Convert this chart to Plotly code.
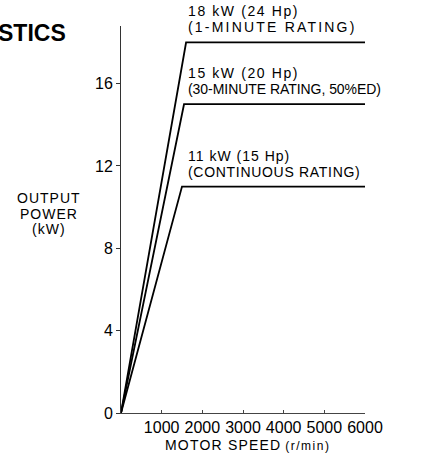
import plotly.graph_objects as go

# Data (motor speed in r/min, output power in kW)
speed_1min = [0, 1600, 6000]
power_1min = [0, 18, 18]
speed_30min = [0, 1550, 6000]
power_30min = [0, 15, 15]
speed_cont = [0, 1500, 6000]
power_cont = [0, 11, 11]

label_1min = ["18 kW (24 Hp)", "(1-MINUTE RATING)"]
label_30min = ["15 kW (20 Hp)", "(30-MINUTE RATING, 50%ED)"]
label_cont = ["11 kW (15 Hp)", "(CONTINUOUS RATING)"]

x_ticks = [1000, 2000, 3000, 4000, 5000, 6000]
x_ticktext = ["1000", "2000", "3000", "4000", "5000", "6000"]
y_ticks = [0, 4, 8, 12, 16]
y_ticktext = ["0", "4", "8", "12", "16"]

FONT = "Liberation Sans, Arial, Helvetica, sans-serif"

FIG_W, FIG_H = 430, 460
plot_l, plot_t, plot_w, plot_h = 121, 26, 244, 387


def px_x(page_x):
    return (page_x - plot_l) / plot_w


def px_y(page_y):
    return 1 - (page_y - plot_t) / plot_h


def spaced(txt, ls):
    return "<span style='letter-spacing:%.2fpx'>%s</span>" % (ls, txt)


fig = go.Figure()
for xs, ys in [(speed_1min, power_1min), (speed_30min, power_30min), (speed_cont, power_cont)]:
    fig.add_trace(go.Scatter(x=xs, y=ys, mode="lines",
                             line=dict(color="black", width=1.8),
                             showlegend=False, hoverinfo="skip"))

# per-line letter spacing to mimic the wide typesetting of the original
spacing = {
    label_1min[0]: 1.6, label_1min[1]: 2.2,
    label_30min[0]: 1.6, label_30min[1]: -0.05,
    label_cont[0]: 1.0, label_cont[1]: 0.7,
}

annotations = []
for lab, xs, ys in [(label_1min, speed_1min, power_1min),
                    (label_30min, speed_30min, power_30min),
                    (label_cont, speed_cont, power_cont)]:
    level = ys[1]
    annotations.append(dict(x=1590, y=level, xref="x", yref="y",
                            text=spaced(lab[0], spacing[lab[0]]),
                            showarrow=False, xanchor="left", yanchor="middle",
                            yshift=31, font=dict(size=14, color="black", family=FONT)))
    annotations.append(dict(x=1590, y=level, xref="x", yref="y",
                            text=spaced(lab[1], spacing[lab[1]]),
                            showarrow=False, xanchor="left", yanchor="middle",
                            yshift=15, font=dict(size=14, color="black", family=FONT)))

# Y-axis title lines
for txt, ypix in [("OUTPUT", 198), ("POWER", 214), ("(kW)", 229)]:
    annotations.append(dict(x=px_x(49), y=px_y(ypix), xref="paper", yref="paper",
                            text=spaced(txt, 1.0),
                            showarrow=False, xanchor="center", yanchor="middle",
                            font=dict(size=14, color="black", family=FONT)))

# X-axis title
annotations.append(dict(x=px_x(247), y=px_y(445), xref="paper", yref="paper",
                        text=spaced("MOTOR SPEED", 1.2) + " "
                        + "<span style='font-size:12px;letter-spacing:1.5px'>(r/min)</span>",
                        showarrow=False, xanchor="center", yanchor="middle",
                        font=dict(size=14, color="black", family=FONT)))

# Partial title
annotations.append(dict(x=px_x(68), y=px_y(33), xref="paper", yref="paper",
                        text="<b>STICS</b>", showarrow=False, xanchor="right", yanchor="middle",
                        font=dict(size=23, color="black", family=FONT)))

fig.update_layout(
    width=FIG_W, height=FIG_H,
    margin=dict(l=plot_l, r=FIG_W - plot_l - plot_w, t=plot_t, b=FIG_H - plot_t - plot_h),
    paper_bgcolor="white", plot_bgcolor="white",
    font=dict(family=FONT, color="black", size=16),
    annotations=annotations,
    xaxis=dict(range=[0, 6000], tickvals=x_ticks, ticktext=x_ticktext,
               showgrid=False, zeroline=False, showline=True, linecolor="#444",
               linewidth=1, ticks="inside", ticklen=3, tickcolor="#444",
               tickangle=0, tickfont=dict(size=16)),
    yaxis=dict(range=[0, 18.8], tickvals=y_ticks, ticktext=y_ticktext,
               showgrid=False, zeroline=False, showline=True, linecolor="#333",
               linewidth=1, ticks="outside", ticklen=4, tickcolor="#333",
               tickfont=dict(size=16)),
)

fig.write_html("out.html", config={"displayModeBar": False},
               post_script="document.body.style.margin='0';")
